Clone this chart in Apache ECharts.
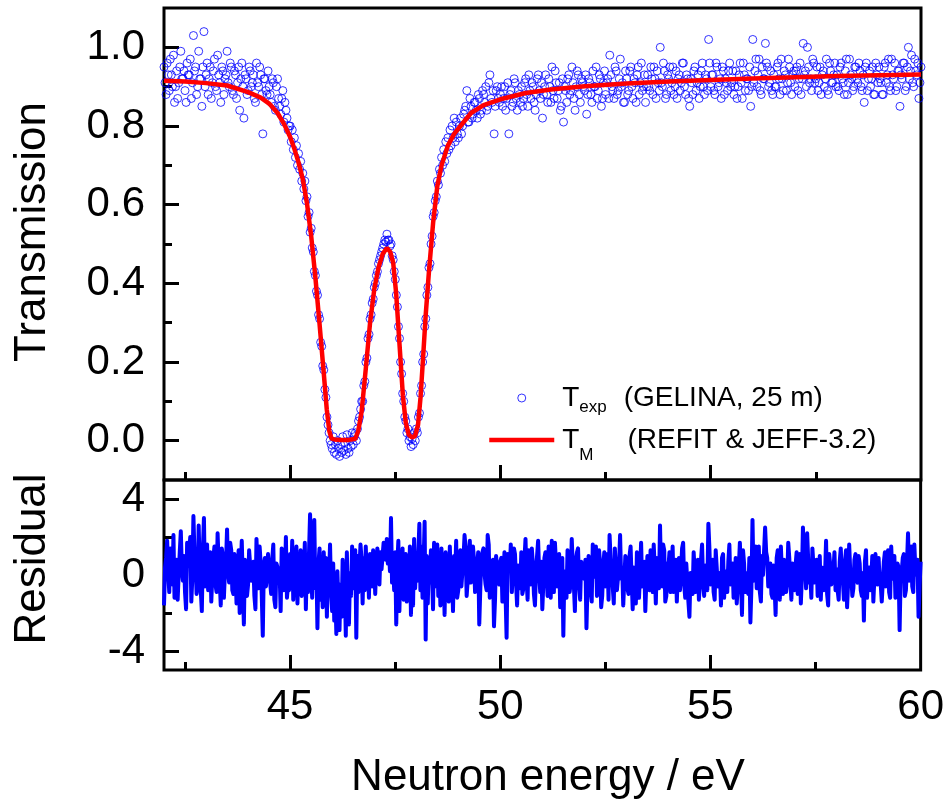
<!DOCTYPE html>
<html><head><meta charset="utf-8">
<script src="https://cdn.jsdelivr.net/npm/echarts@6/dist/echarts.min.js"></script>
<style>html,body{margin:0;padding:0;background:#fff}#c{width:947px;height:803px}</style>
</head><body><div id="c"></div>
<script>
// ---------- data ----------
const energyA = [
42,42.05,42.1,42.15,42.2,42.25,42.3,42.35,42.4,42.45,
42.5,42.55,42.6,42.65,42.7,42.75,42.8,42.85,42.9,42.95,
43,43.05,43.1,43.15,43.2,43.25,43.3,43.35,43.4,43.45,
43.5,43.55,43.6,43.65,43.7,43.75,43.8,43.85,43.9,43.95,
44,44.05,44.1,44.15,44.2,44.25,44.3,44.35,44.4,44.45,
44.5,44.55,44.6,44.65,44.7,44.75,44.8,44.85,44.9,44.95];
const texpA = [
.95,.88,.93,.97,.90,.86,.94,.91,.99,.92,
.89,.96,.93,.87,1.03,.95,.90,.92,.85,1.04,
.93,.88,.95,.91,.97,.89,.93,.86,.94,.92,
.99,.90,.95,.88,.93,.91,.84,.96,.82,.92,
.89,.94,.91,.87,.96,.90,.93,.78,.92,.88,
.90,.86,.91,.84,.92,.85,.87,.81,.84,.79];
const residA = [
-1.6,0.9,0.2,1.4,-0.5,-1.2,0.8,0.1,2.3,-0.3,
-0.9,1.7,0.4,-1.4,3.1,0.7,-0.6,0.3,-1.9,3.0,
0.5,-0.8,1.2,0.0,1.5,-0.9,0.6,-1.6,1.0,0.2,
2.4,-0.4,1.3,-1.0,0.5,0.1,-2.0,1.8,-2.6,0.3,
-0.5,1.2,0.4,-1.1,1.9,-0.7,0.6,-3.2,0.9,-0.6,
0.3,-1.0,1.6,-1.7,0.4,0.2,1.4,-0.8,2.0,-0.5];

const energyA2 = [
42.025,42.075,42.125,42.175,42.225,42.275,42.325,42.375,42.425,42.475,
42.525,42.575,42.625,42.675,42.725,42.775,42.825,42.875,42.925,42.975,
43.025,43.075,43.125,43.175,43.225,43.275,43.325,43.375,43.425,43.475,
43.525,43.575,43.625,43.675,43.725,43.775,43.825,43.875,43.925,43.975,
44.025,44.075,44.125,44.175,44.225,44.275,44.325,44.375,44.425,44.475,
44.525,44.575,44.625,44.675,44.725,44.775,44.825,44.875,44.925,44.975];
const texpA2 = [
.91,.96,.89,.93,.98,.90,.87,.95,.92,.94,
.86,.93,.97,.91,.94,.88,.99,.92,.95,.90,
.96,.92,.87,.94,.90,.98,.91,.95,.88,.93,
.91,.96,.89,.94,.87,.95,.92,.90,.93,.88,
.95,.90,.93,.86,.91,.95,.88,.92,.89,.94,
.88,.92,.85,.90,.87,.83,.89,.86,.82,.80];
const residA2 = [
0.4,1.8,-0.9,0.6,2.1,-0.2,-1.3,1.2,0.3,1.0,
-1.8,0.5,2.0,-0.1,1.1,-1.0,2.6,0.2,1.3,-0.6,
1.6,0.3,-1.4,0.9,-0.5,2.2,-0.2,1.4,-1.2,0.6,
0.1,1.7,-0.8,1.1,-1.5,1.3,0.2,-0.4,0.8,-1.1,
1.3,-0.3,0.7,-1.8,0.4,1.5,-1.0,0.5,-0.6,1.1,
-0.4,0.8,-1.3,0.6,-0.2,-1.9,0.9,-0.3,-1.2,-0.8];

const energyB = [
45,45.025,45.05,45.075,45.1,45.125,45.15,45.175,45.2,45.225,
45.25,45.275,45.3,45.325,45.35,45.375,45.4,45.425,45.45,45.475,
45.5,45.525,45.55,45.575,45.6,45.625,45.65,45.675,45.7,45.725,
45.75,45.775,45.8,45.825,45.85,45.875,45.9,45.925,45.95,45.975,
46,46.025,46.05,46.075,46.1,46.125,46.15,46.175,46.2,46.225,
46.25,46.275,46.3,46.325,46.35,46.375,46.4,46.425,46.45,46.475,
46.5,46.525,46.55,46.575,46.6,46.625,46.65,46.675,46.7,46.725,
46.75,46.775,46.8,46.825,46.85,46.875,46.9,46.925,46.95,46.975,
47,47.025,47.05,47.075,47.1,47.125,47.15,47.175,47.2,47.225,
47.25,47.275,47.3,47.325,47.35,47.375,47.4,47.425,47.45,47.475,
47.5,47.525,47.55,47.575,47.6,47.625,47.65,47.675,47.7,47.725,
47.75,47.775,47.8,47.825,47.85,47.875,47.9,47.925,47.95,47.975,
48,48.025,48.05,48.075,48.1,48.125,48.15,48.175,48.2,48.225,
48.25,48.275,48.3,48.325,48.35,48.375,48.4,48.425,48.45,48.475,
48.5,48.525,48.55,48.575,48.6,48.625,48.65,48.675,48.7,48.725,
48.75,48.775,48.8,48.825,48.85,48.875,48.9,48.925,48.95,48.975];
const texpB = [
.80,.76,.79,.74,.77,.72,.75,.70,.73,.69,
.71,.66,.68,.64,.66,.61,.62,.57,.58,.53,
.54,.49,.48,.43,.42,.38,.37,.32,.31,.25,
.24,.19,.18,.13,.11,.06,.04,.02,.00,-.01,
-.02,.01,-.03,-.01,-.035,.00,-.02,-.04,-.01,-.03,
.01,-.025,-.005,-.035,.015,-.02,-.03,.00,-.015,.02,
-.01,.01,.02,.00,.03,.05,.06,.08,.10,.10,
.14,.15,.20,.21,.26,.27,.31,.32,.35,.36,
.39,.40,.42,.43,.45,.46,.47,.48,.49,.50,
.51,.505,.525,.51,.51,.495,.50,.47,.46,.43,
.41,.37,.34,.29,.26,.20,.17,.12,.10,.06,
.05,.02,.03,.00,.01,-.015,.005,-.01,.02,.00,
.03,.02,.06,.07,.12,.14,.20,.22,.29,.31,
.37,.39,.44,.45,.50,.52,.57,.58,.61,.62,
.66,.65,.69,.68,.72,.70,.74,.71,.76,.73,
.77,.74,.79,.75,.80,.77,.82,.76,.81,.78];
const residB = [
1.1,-0.6,1.8,-1.3,0.9,-0.4,1.5,-1.5,0.7,0.0,
1.3,-1.1,0.6,-0.2,1.7,-1.8,0.8,-0.9,1.2,3.2,
0.4,-1.2,1.0,2.9,-0.7,0.5,-2.8,0.6,1.4,-1.3,
0.3,-1.7,1.2,-0.6,0.9,-2.2,0.5,-0.3,1.6,-1.0,
-1.9,0.6,-2.4,-0.8,-3.1,0.2,-1.6,-2.9,-0.5,-2.2,
0.8,-2.0,-0.3,-3.2,1.2,-1.4,-2.6,0.1,-1.1,1.5,
-0.7,0.9,1.3,-3.3,1.0,-0.9,0.4,1.6,0.8,-1.5,
0.9,-0.8,1.5,-0.3,0.7,-1.2,1.1,0.2,-0.6,1.3,
0.4,-1.0,0.6,1.4,0.9,-0.5,1.2,0.3,1.0,1.7,
1.4,0.8,1.9,0.6,1.5,0.2,3.0,-0.4,0.9,-0.8,
1.2,-2.6,0.5,1.8,-1.9,0.7,-0.4,1.4,-1.3,0.6,
1.1,-1.4,0.8,-0.9,1.5,-2.1,0.4,-1.6,1.9,-0.7,
0.9,-0.3,1.1,2.7,-0.8,1.5,-1.2,0.6,2.8,-3.4,
1.0,-1.5,0.7,-0.4,1.3,0.2,-1.8,1.7,-0.6,0.9,
1.6,-1.1,0.8,-1.6,1.4,-0.3,0.5,-2.1,1.2,-0.9,
0.6,-1.4,1.5,-0.8,0.3,-1.9,1.0,-0.2,1.8,-1.2];

const energyC = [
49,49.05,49.1,49.15,49.2,49.25,49.3,49.35,49.4,49.45,
49.5,49.55,49.6,49.65,49.7,49.75,49.8,49.85,49.9,49.95,
50,50.05,50.1,50.15,50.2,50.25,50.3,50.35,50.4,50.45,
50.5,50.55,50.6,50.65,50.7,50.75,50.8,50.85,50.9,50.95,
51,51.05,51.1,51.15,51.2,51.25,51.3,51.35,51.4,51.45,
51.5,51.55,51.6,51.65,51.7,51.75,51.8,51.85,51.9,51.95,
52,52.05,52.1,52.15,52.2,52.25,52.3,52.35,52.4,52.45,
52.5,52.55,52.6,52.65,52.7,52.75,52.8,52.85,52.9,52.95,
53,53.05,53.1,53.15,53.2,53.25,53.3,53.35,53.4,53.45,
53.5,53.55,53.6,53.65,53.7,53.75,53.8,53.85,53.9,53.95,
54,54.05,54.1,54.15,54.2,54.25,54.3,54.35,54.4,54.45,
54.5,54.55,54.6,54.65,54.7,54.75,54.8,54.85,54.9,54.95,
55,55.05,55.1,55.15,55.2,55.25,55.3,55.35,55.4,55.45,
55.5,55.55,55.6,55.65,55.7,55.75,55.8,55.85,55.9,55.95,
56,56.05,56.1,56.15,56.2,56.25,56.3,56.35,56.4,56.45,
56.5,56.55,56.6,56.65,56.7,56.75,56.8,56.85,56.9,56.95,
57,57.05,57.1,57.15,57.2,57.25,57.3,57.35,57.4,57.45,
57.5,57.55,57.6,57.65,57.7,57.75,57.8,57.85,57.9,57.95,
58,58.05,58.1,58.15,58.2,58.25,58.3,58.35,58.4,58.45,
58.5,58.55,58.6,58.65,58.7,58.75,58.8,58.85,58.9,58.95,
59,59.05,59.1,59.15,59.2,59.25,59.3,59.35,59.4,59.45,
59.5,59.55,59.6,59.65,59.7,59.75,59.8,59.85,59.9,59.95,
60];
const texpC = [
.77,.82,.80,.84,.89,.81,.85,.83,.86,.82,
.87,.84,.88,.90,.85,.93,.86,.78,.89,.87,
.88,.85,.90,.87,.78,.89,.86,.91,.84,.88,
.90,.87,.92,.85,.89,.91,.86,.88,.93,.87,
.82,.90,.88,.92,.86,.89,.94,.87,.91,.85,
.81,.89,.92,.88,.95,.87,.90,.93,.86,.91,
.89,.83,.92,.88,.94,.90,.87,.93,.85,.91,
.88,.92,.98,.90,.87,.94,.89,.97,.91,.86,
.92,.89,.95,.87,.91,.93,.88,.96,.90,.86,
.93,.89,.92,.95,.87,.91,1.00,.90,.94,.88,
.92,.89,.95,.90,.87,.93,.91,.96,.88,.92,
.85,.91,.94,.89,.93,.90,.96,.88,.92,1.02,
.90,.93,.88,.95,.91,.87,.94,.92,.89,.96,
.91,.88,.94,.90,.96,.87,.93,.92,.89,.85,
1.02,.94,.90,.97,.88,.92,1.01,.95,.91,.89,
.93,.90,.96,.88,.92,.94,.89,.97,.91,.93,
.90,.95,.92,.88,1.01,.94,1.00,.91,.89,.96,
.92,.89,.95,.93,.90,.97,.88,.94,.91,.96,
.93,.89,.96,.91,.94,.88,.97,.92,.90,.95,
.91,.94,.89,.86,.96,.92,.90,.95,.88,.93,
.95,.91,.88,.96,.93,.90,.97,.92,.89,.94,
.85,.92,.96,.90,1.00,.94,.91,.97,.93,.87,
.95];
const residC = [
-0.8,1.3,0.2,2.1,-1.1,0.9,-0.4,1.5,-0.9,0.5,
-2.6,0.8,1.4,-0.5,2.1,-1.2,0.6,-2.7,1.0,-0.3,
0.7,-1.4,1.2,-3.3,0.4,1.6,-0.8,1.1,-1.6,0.3,
1.2,-0.7,1.9,-1.3,0.5,1.4,-1.0,0.2,1.8,-0.9,
-1.8,0.9,0.1,1.5,-1.2,0.6,1.7,-0.6,1.1,-1.4,
-3.2,0.3,1.3,-0.9,1.9,-0.5,0.8,1.4,-1.3,0.6,
-0.2,-2.8,1.0,-0.8,1.6,0.1,-1.1,1.3,-1.7,0.5,
-0.6,1.1,2.1,-0.3,-1.5,1.4,-0.7,2.1,0.4,-1.6,
0.8,-1.0,1.5,-1.8,0.2,1.2,-1.2,1.7,-0.4,-1.9,
1.0,-0.8,0.4,1.6,-1.5,0.0,2.6,-0.6,1.3,-1.1,
0.4,-0.9,1.5,-0.3,-1.4,0.9,0.2,1.7,-1.2,0.5,
-2.2,-0.1,1.2,-0.9,0.8,-0.4,1.6,-1.1,0.3,2.7,
-0.5,0.8,-1.3,1.4,-0.2,-1.6,1.1,0.2,-0.9,1.6,
-0.1,-1.2,0.9,-0.6,1.7,-2.1,0.6,0.1,-1.0,-2.5,
2.9,0.6,-0.7,1.5,-1.4,0.0,2.5,0.9,-0.5,-1.0,
0.5,-2.1,1.3,-1.3,0.1,0.8,-0.9,1.7,-0.3,0.6,
-0.8,1.2,0.0,-1.5,2.5,0.7,2.2,-0.4,-1.2,1.3,
0.0,-1.1,1.0,0.4,-0.8,1.8,-1.6,0.5,-0.5,1.2,
0.3,-1.3,1.4,-0.3,0.7,-1.7,1.6,0.0,-0.7,1.1,
-0.4,0.6,-1.1,-2.4,1.3,0.0,-0.8,1.0,-1.5,0.3,
0.9,-0.5,-1.4,1.2,0.1,-0.9,1.5,-0.2,-1.2,0.6,
-2.9,0.2,1.1,-0.8,2.2,0.5,-0.6,1.6,0.0,-2.2,
0.7];

const energyC2 = [
49.025,49.075,49.125,49.175,49.225,49.275,49.325,49.375,49.425,49.475,
49.525,49.575,49.625,49.675,49.725,49.775,49.825,49.875,49.925,49.975,
50.025,50.075,50.125,50.175,50.225,50.275,50.325,50.375,50.425,50.475,
50.525,50.575,50.625,50.675,50.725,50.775,50.825,50.875,50.925,50.975,
51.025,51.075,51.125,51.175,51.225,51.275,51.325,51.375,51.425,51.475,
51.525,51.575,51.625,51.675,51.725,51.775,51.825,51.875,51.925,51.975,
52.025,52.075,52.125,52.175,52.225,52.275,52.325,52.375,52.425,52.475,
52.525,52.575,52.625,52.675,52.725,52.775,52.825,52.875,52.925,52.975,
53.025,53.075,53.125,53.175,53.225,53.275,53.325,53.375,53.425,53.475,
53.525,53.575,53.625,53.675,53.725,53.775,53.825,53.875,53.925,53.975,
54.025,54.075,54.125,54.175,54.225,54.275,54.325,54.375,54.425,54.475,
54.525,54.575,54.625,54.675,54.725,54.775,54.825,54.875,54.925,54.975,
55.025,55.075,55.125,55.175,55.225,55.275,55.325,55.375,55.425,55.475,
55.525,55.575,55.625,55.675,55.725,55.775,55.825,55.875,55.925,55.975,
56.025,56.075,56.125,56.175,56.225,56.275,56.325,56.375,56.425,56.475,
56.525,56.575,56.625,56.675,56.725,56.775,56.825,56.875,56.925,56.975,
57.025,57.075,57.125,57.175,57.225,57.275,57.325,57.375,57.425,57.475,
57.525,57.575,57.625,57.675,57.725,57.775,57.825,57.875,57.925,57.975,
58.025,58.075,58.125,58.175,58.225,58.275,58.325,58.375,58.425,58.475,
58.525,58.575,58.625,58.675,58.725,58.775,58.825,58.875,58.925,58.975,
59.025,59.075,59.125,59.175,59.225,59.275,59.325,59.375,59.425,59.475,
59.525,59.575,59.625,59.675,59.725,59.775,59.825,59.875,59.925,59.975];
const texpC2 = [
.80,.78,.83,.85,.81,.87,.82,.86,.84,.88,
.83,.89,.86,.84,.91,.87,.89,.85,.90,.86,
.90,.87,.84,.91,.88,.85,.92,.87,.89,.86,
.85,.91,.88,.93,.87,.90,.84,.92,.89,.91,
.88,.93,.86,.90,.95,.87,.91,.89,.84,.92,
.90,.86,.93,.89,.91,.84,.94,.88,.92,.90,
.93,.88,.91,.86,.90,.95,.89,.92,.87,.94,
.91,.87,.93,.89,.95,.88,.92,.90,.86,.94,
.88,.94,.90,.92,.86,.95,.91,.89,.93,.90,
.90,.95,.88,.92,.94,.89,.91,.96,.87,.93,
.95,.91,.88,.94,.92,.89,.96,.90,.93,.87,
.92,.88,.95,.91,.87,.94,.90,.93,.89,.96,
.93,.89,.96,.90,.92,.95,.88,.91,.94,.90,
.94,.90,.87,.93,.91,.96,.89,.92,.95,.90,
.91,.97,.93,.89,.95,.92,.96,.90,.94,.88,
.90,.95,.92,.97,.89,.93,.91,.95,.88,.94,
.94,.89,.96,.92,.93,.90,.95,.92,.97,.91,
.95,.91,.88,.94,.92,.89,.96,.91,.93,.90,
.90,.95,.92,.88,.97,.91,.93,.89,.95,.92,
.96,.90,.93,.95,.89,.94,.92,.88,.96,.91,
.92,.88,.95,.91,.97,.89,.93,.96,.90,.94,
.93,.96,.89,.95,.92,.98,.90,.94,.96,.91];
const residC2 = [
0.2,-0.6,0.9,1.4,-0.3,1.8,-0.2,0.8,-0.4,1.2,
-0.7,1.2,0.1,-0.8,1.6,0.3,0.8,-1.3,0.9,-0.5,
0.9,0.0,-1.0,1.1,0.2,-0.9,1.4,-0.4,0.5,-0.7,
-1.0,0.8,-0.2,1.3,-0.5,0.6,-1.6,1.0,0.1,0.7,
-0.4,1.2,-1.1,0.3,1.8,-0.9,0.6,-0.2,-1.7,0.9,
0.2,-1.2,0.9,-0.4,0.5,-1.9,1.2,-0.6,0.7,0.1,
0.8,-0.5,0.3,-1.4,-0.1,1.5,-0.4,0.6,-1.1,1.2,
0.2,-1.3,0.8,-0.6,1.4,-0.8,0.5,-0.2,-1.6,1.0,
-0.7,1.0,-0.2,0.4,-1.5,1.3,0.1,-0.6,0.7,-0.3,
-0.4,1.3,-0.9,0.3,0.9,-0.7,0.0,1.6,-1.4,0.6,
1.2,0.0,-0.9,0.8,0.2,-0.8,1.4,-0.5,0.6,-1.4,
0.1,-1.0,1.1,0.0,-1.3,0.8,-0.4,0.5,-0.8,1.4,
0.4,-0.9,1.3,-0.6,0.1,0.9,-1.2,-0.2,0.7,-0.5,
0.6,-0.6,-1.5,0.4,-0.2,1.3,-0.9,0.0,0.9,-0.6,
-0.3,1.5,0.3,-0.9,1.0,0.0,1.2,-0.6,0.6,-1.2,
-0.6,0.9,0.1,1.5,-1.0,0.3,-0.3,0.9,-1.3,0.6,
0.5,-1.0,1.1,-0.1,0.3,-0.7,0.8,0.0,1.4,-0.4,
0.8,-0.4,-1.3,0.5,-0.1,-1.0,1.1,-0.5,0.2,-0.8,
-0.8,0.7,-0.1,-1.3,1.3,-0.4,0.2,-1.1,0.8,-0.2,
1.0,-0.8,0.1,0.7,-1.2,0.4,-0.2,-1.4,1.1,-0.5,
-0.3,-1.4,0.7,-0.6,1.3,-1.2,0.1,1.0,-0.8,0.4,
0.0,0.9,-1.1,0.6,-0.3,1.5,-0.9,0.3,0.8,-0.6];

// fitted transmission T_M (REFIT & JEFF-3.2)
const fitE = [42,42.5,43,43.5,44, 44.3,44.5,44.7,44.85,45, 45.1,45.2,45.3,45.4,45.5,
  45.6,45.7,45.8,45.87,45.93, 45.98,46.05,46.2,46.4,46.55, 46.62,46.7,46.8,46.9,47,
  47.1,47.2,47.3,47.38,47.45, 47.52,47.6,47.68,47.75,47.82, 47.9,47.97,48.04,48.1,48.16,
  48.22,48.3,48.4,48.5,48.6, 48.75,48.9,49.05,49.3,49.6, 50,50.6,51.2,52,53,
  54,55,56,57,58, 59,60];
const fitT = [.915,.913,.909,.903,.886, .872,.857,.833,.806,.772, .742,.707,.665,.603,.520,
  .415,.295,.170,.080,.025, .006,.003,.002,.002,.005, .025,.075,.185,.300,.385,
  .440,.475,.490,.480,.452, .375,.245,.115,.045,.015, .008,.012,.040,.110,.210,
  .315,.430,.555,.648,.700, .750,.780,.800,.833,.853, .868,.884,.893,.901,.908,
  .913,.917,.921,.924,.927, .929,.931];

// axis ticks
const xLabelTicks = [45,50,55,60];
const xMajorTicks = [45,50,55];
const xMinorTicks = [42.5,47.5,52.5,57.5];
const tLabelTicks = [0,0.2,0.4,0.6,0.8,1.0];
const tMinorTicks = [0.1,0.3,0.5,0.7,0.9];
const rLabelTicks = [-4,0,4];
const rMinorTicks = [-2,2];

// ---------- chart ----------
const FONT = '"Liberation Sans", Arial, Helvetica, sans-serif';
const energy = [].concat(energyA, energyA2, energyB, energyC, energyC2);
const texp = [].concat(texpA, texpA2, texpB, texpC, texpC2);
const resid = [].concat(residA, residA2, residB, residC, residC2);
const order = energy.map((e, i) => i).sort((a, b) => energy[a] - energy[b]);
const scatterData = order.map(i => [energy[i], texp[i]]);
const residData = order.map(i => [energy[i], resid[i]]);
const fitData = fitE.map((e, i) => [e, fitT[i]]);

function xAx(grid, ticks, len, labels) {
  return {
    type: 'value', gridIndex: grid, min: 42, max: 60, position: 'bottom',
    axisLine: {show: false, onZero: false}, splitLine: {show: false},
    axisTick: {show: true, inside: true, length: len, customValues: ticks,
      lineStyle: {color: '#000', width: 3}},
    axisLabel: labels ? {show: true, customValues: labels, fontSize: 42, fontFamily: FONT,
      color: '#000', margin: 16, formatter: v => String(v)} : {show: false}
  };
}
function yAx(grid, min, max, ticks, len, labels, fmt) {
  return {
    type: 'value', gridIndex: grid, min: min, max: max, position: 'left',
    axisLine: {show: false, onZero: false}, splitLine: {show: false},
    axisTick: {show: true, inside: true, length: len, customValues: ticks,
      lineStyle: {color: '#000', width: 3}},
    axisLabel: labels ? {show: true, customValues: labels, fontSize: 42, fontFamily: FONT,
      color: '#000', margin: 19, formatter: fmt} : {show: false}
  };
}

const chart = echarts.init(document.getElementById('c'), null, {renderer: 'canvas'});
chart.setOption({
  animation: false,
  backgroundColor: '#fff',
  grid: [
    {left: 164, top: 8, width: 757, height: 472, show: true, borderColor: '#000', borderWidth: 3, backgroundColor: 'transparent'},
    {left: 164, top: 480, width: 757, height: 190, show: true, borderColor: '#000', borderWidth: 3, backgroundColor: 'transparent'}
  ],
  xAxis: [
    xAx(0, xMajorTicks, 15, null),
    xAx(0, xMinorTicks, 8, null),
    xAx(1, xMajorTicks, 15, xLabelTicks),
    xAx(1, xMinorTicks, 8, null)
  ],
  yAxis: [
    yAx(0, -0.1, 1.1, tLabelTicks, 15, tLabelTicks, v => v.toFixed(1)),
    yAx(0, -0.1, 1.1, tMinorTicks, 8, null),
    yAx(1, -5, 5, rLabelTicks, 15, rLabelTicks, v => String(v)),
    yAx(1, -5, 5, rMinorTicks, 8, null)
  ],
  legend: {
    data: [
      {name: 'Texp', itemStyle: {borderWidth: 1}},
      {name: 'TM', lineStyle: {width: 4.5}, itemStyle: {color: 'rgba(0,0,0,0)', borderWidth: 0}}
    ],
    orient: 'vertical', left: 487, top: 384, padding: 0, itemGap: 10,
    itemWidth: 65, itemHeight: 8, selectedMode: false,
    formatter: name => name === 'Texp'
      ? '{a1|T}{s1|exp}{p1|(GELINA, 25 m)}'
      : '{a2|T}{s2|M}{p2|(REFIT & JEFF-3.2)}',
    textStyle: {
      color: '#000', fontFamily: FONT, fontSize: 28,
      rich: {
        a1: {fontSize: 28, fontFamily: FONT, color: '#000', lineHeight: 36, padding: [0, 0, 0, 3]},
        s1: {fontSize: 17, fontFamily: FONT, color: '#000', lineHeight: 17, verticalAlign: 'bottom'},
        p1: {fontSize: 28, fontFamily: FONT, color: '#000', lineHeight: 36, padding: [0, 0, 0, 17]},
        a2: {fontSize: 28, fontFamily: FONT, color: '#000', lineHeight: 48, padding: [0, 0, 0, 3]},
        s2: {fontSize: 17, fontFamily: FONT, color: '#000', lineHeight: 17, verticalAlign: 'bottom'},
        p2: {fontSize: 28, fontFamily: FONT, color: '#000', lineHeight: 48, padding: [0, 0, 0, 34]}
      }
    }
  },
  series: [
    {
      name: 'Texp', type: 'scatter', xAxisIndex: 0, yAxisIndex: 0, data: scatterData,
      symbol: 'circle', symbolSize: 8, silent: true, z: 2,
      itemStyle: {color: 'rgba(0,0,0,0)', borderColor: '#0000ff', borderWidth: 1}
    },
    {
      name: 'TM', type: 'line', xAxisIndex: 0, yAxisIndex: 0, data: fitData,
      symbol: 'none', showSymbol: false, silent: true, z: 3,
      lineStyle: {color: '#ff0000', width: 4.5}, itemStyle: {color: '#ff0000'}
    },
    {
      name: 'Residual', type: 'line', xAxisIndex: 2, yAxisIndex: 2, data: residData,
      symbol: 'none', showSymbol: false, silent: true, z: 2,
      lineStyle: {color: '#0000ff', width: 4, join: 'round'}, itemStyle: {color: '#0000ff'}
    }
  ],
  graphic: [
    {type: 'text', x: 33, y: 232, rotation: Math.PI / 2, silent: true,
      style: {text: 'Transmission', fontSize: 44, fontFamily: FONT, fill: '#000', align: 'center', verticalAlign: 'middle'}},
    {type: 'text', x: 33, y: 559, rotation: Math.PI / 2, silent: true,
      style: {text: 'Residual', fontSize: 44, fontFamily: FONT, fill: '#000', align: 'center', verticalAlign: 'middle'}},
    {type: 'text', x: 548, y: 778, silent: true,
      style: {text: 'Neutron energy / eV', fontSize: 44, fontFamily: FONT, fill: '#000', align: 'center', verticalAlign: 'middle'}}
  ]
});
</script>
</body></html>
